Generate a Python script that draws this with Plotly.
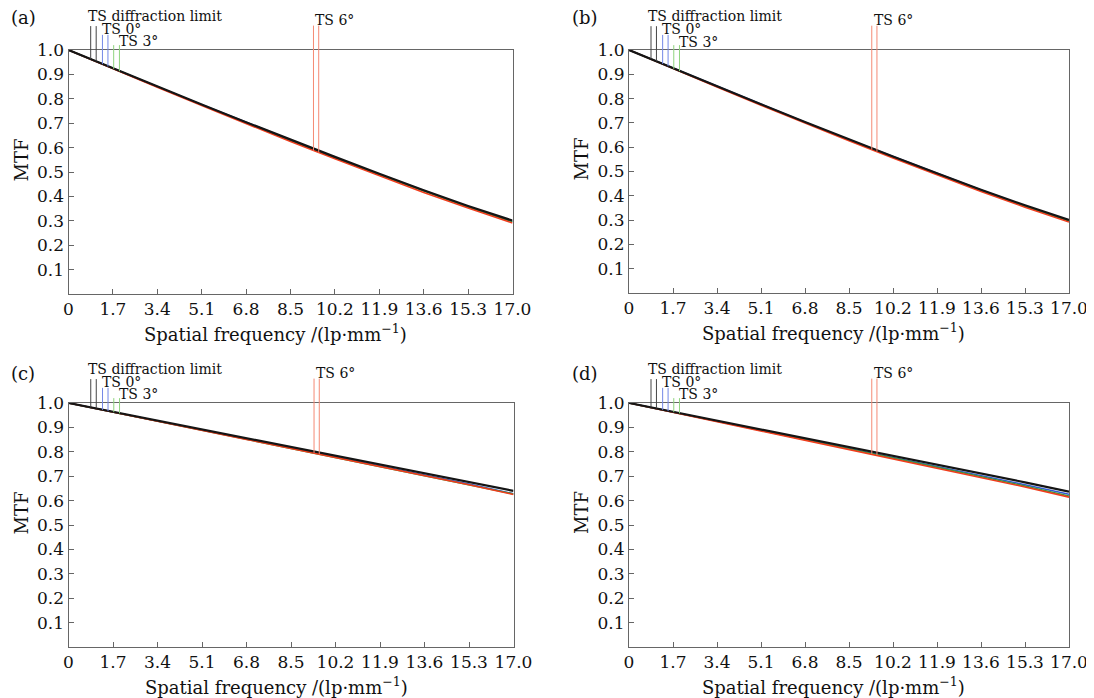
import numpy as np
import plotly.graph_objects as go

# ---------------- data ----------------
freq = [0.0, 1.7, 3.4, 5.1, 6.8, 8.5, 10.2, 11.9, 13.6, 15.3, 17.0]
x_ticktext = ["0", "1.7", "3.4", "5.1", "6.8", "8.5", "10.2", "11.9", "13.6", "15.3", "17.0"]
y_tickvals = [0.1, 0.2, 0.3, 0.4, 0.5, 0.6, 0.7, 0.8, 0.9, 1.0]
y_ticktext = ["0.1", "0.2", "0.3", "0.4", "0.5", "0.6", "0.7", "0.8", "0.9", "1.0"]

a_diff = [1.000, 0.925, 0.851, 0.777, 0.704, 0.632, 0.562, 0.493, 0.425, 0.361, 0.301]
a_f0 = [1.000, 0.924, 0.850, 0.776, 0.703, 0.631, 0.560, 0.491, 0.423, 0.358, 0.298]
a_f3 = [1.000, 0.924, 0.849, 0.775, 0.702, 0.629, 0.558, 0.489, 0.421, 0.356, 0.296]
a_f6 = [1.000, 0.922, 0.847, 0.772, 0.698, 0.625, 0.554, 0.484, 0.416, 0.352, 0.291]

b_diff = [1.000, 0.925, 0.851, 0.777, 0.704, 0.632, 0.562, 0.493, 0.425, 0.361, 0.301]
b_f0 = [1.000, 0.925, 0.850, 0.776, 0.703, 0.631, 0.561, 0.492, 0.424, 0.359, 0.299]
b_f3 = [1.000, 0.924, 0.850, 0.775, 0.702, 0.630, 0.559, 0.490, 0.422, 0.357, 0.296]
b_f6 = [1.000, 0.923, 0.848, 0.773, 0.699, 0.627, 0.556, 0.486, 0.418, 0.353, 0.292]

c_diff = [1.000, 0.964, 0.928, 0.892, 0.856, 0.820, 0.784, 0.748, 0.712, 0.676, 0.640]
c_f0 = [1.000, 0.963, 0.926, 0.889, 0.853, 0.816, 0.779, 0.743, 0.706, 0.668, 0.628]
c_f3 = [1.000, 0.963, 0.926, 0.888, 0.852, 0.815, 0.778, 0.741, 0.704, 0.666, 0.627]
c_f6 = [1.000, 0.962, 0.925, 0.888, 0.851, 0.814, 0.777, 0.740, 0.703, 0.665, 0.625]

d_diff = [1.000, 0.964, 0.928, 0.892, 0.856, 0.820, 0.784, 0.748, 0.712, 0.675, 0.637]
d_f0 = [1.000, 0.963, 0.926, 0.889, 0.852, 0.815, 0.778, 0.741, 0.704, 0.665, 0.626]
d_f3 = [1.000, 0.963, 0.925, 0.888, 0.850, 0.813, 0.775, 0.737, 0.699, 0.660, 0.619]
d_f6 = [1.000, 0.962, 0.924, 0.886, 0.848, 0.811, 0.773, 0.735, 0.696, 0.656, 0.614]

panel_names = ["(a)", "(b)", "(c)", "(d)"]
field_names = ["TS diffraction limit", "TS 0°", "TS 3°", "TS 6°"]

# legend marker pairs (T, S) frequency positions and their top MTF values
legend_x = [[0.85, 1.06], [1.30, 1.51], [1.73, 1.95], [9.38, 9.58]]
legend_top = [1.098, 1.062, 1.020, 1.100]
label_x = [0.70, 1.25, 1.89, 9.41]
label_y = [1.140, 1.088, 1.035, 1.123]

panels = [
    [a_diff, a_f0, a_f3, a_f6],
    [b_diff, b_f0, b_f3, b_f6],
    [c_diff, c_f0, c_f3, c_f6],
    [d_diff, d_f0, d_f3, d_f6],
]

# ---------------- styles / layout ----------------
OFF = 8  # default page margin around the plot div
W, H = 1094 - OFF, 698 - OFF
FONT = "DejaVu Serif"
curve_colors = ["#151515", "#2f55d4", "#3a9a3a", "#f03c1c"]
curve_widths = [2.2, 1.5, 1.5, 1.6]
mark_colors = ["#444444", "#7388e6", "#8fd47e", "#f58a74"]
draw_order = [1, 2, 3, 0]

# plot-area boxes in window pixels: left, right, top, bottom
boxes = [
    (68.5, 512.5, 50, 294),
    (629, 1069, 50, 293),
    (68.5, 513.5, 403, 647),
    (629, 1069, 403, 647),
]


def fx(px):
    return (px - OFF) / W


def fy(py):
    return 1 - (py - OFF) / H


fig = go.Figure()
layout = dict(
    template="none",
    width=W, height=H,
    margin=dict(l=0, r=0, t=0, b=0, autoexpand=False),
    paper_bgcolor="white", plot_bgcolor="rgba(0,0,0,0)",
    showlegend=False,
    font=dict(family=FONT, color="#111111", size=16),
)
annotations = []

for i, (series, box) in enumerate(zip(panels, boxes)):
    n = i + 1
    sfx = "" if n == 1 else str(n)
    tall = n + 4
    l, r, t, b = box
    ytop_px = OFF if i < 2 else 352
    dom_y = [fy(b), fy(t)]
    dom_tall = [fy(b), fy(ytop_px)]
    tall_range = (b - ytop_px) / (b - t)

    layout["xaxis" + sfx] = dict(
        domain=[fx(l), fx(r)], range=[0, 17], anchor="y" + sfx, automargin=False,
        tickmode="array", tickvals=freq, ticktext=x_ticktext,
        ticks="inside", ticklen=5, tickwidth=1,
        tickcolor="#666666", showline=True, linecolor="#666666", linewidth=1,
        mirror=True, showgrid=False, zeroline=False,
        tickfont=dict(family=FONT, size=17, color="#111111"),
    )
    layout["yaxis" + sfx] = dict(
        domain=dom_y, range=[0, 1], anchor="x" + sfx, automargin=False,
        tickmode="array", tickvals=y_tickvals, ticktext=y_ticktext,
        ticks="inside", ticklen=5, tickwidth=1,
        tickcolor="#666666", showline=True, linecolor="#666666", linewidth=1,
        mirror=True, showgrid=False, zeroline=False,
        tickfont=dict(family=FONT, size=17, color="#111111"),
    )
    layout["yaxis" + str(tall)] = dict(
        domain=dom_tall, range=[0, tall_range], anchor="x" + sfx,
        visible=False, showgrid=False, zeroline=False, automargin=False,
    )

    # curves
    for k in draw_order:
        fig.add_trace(go.Scatter(
            x=freq, y=series[k], mode="lines",
            line=dict(color=curve_colors[k], width=curve_widths[k]),
            xaxis="x" + sfx, yaxis="y" + sfx, hoverinfo="skip",
        ))

    # legend marker lines (from the curve up to above the frame)
    for k in range(4):
        for xv in legend_x[k]:
            y0 = float(np.interp(xv, freq, series[k]))
            fig.add_trace(go.Scatter(
                x=[xv, xv], y=[y0, legend_top[k]], mode="lines",
                line=dict(color=mark_colors[k], width=1),
                xaxis="x" + sfx, yaxis="y" + str(tall), hoverinfo="skip",
            ))
        annotations.append(dict(
            x=label_x[k], y=label_y[k], xref="x" + sfx, yref="y" + str(tall),
            text=field_names[k], showarrow=False, xanchor="left", yanchor="middle",
            borderpad=0,
            font=dict(family=FONT, size=14, color="#111111"),
        ))

    # panel letter
    annotations.append(dict(
        x=fx(l - 58.5), y=fy(t - (32 if i < 2 else 30)), xref="paper", yref="paper",
        text=panel_names[i], showarrow=False, xanchor="left", yanchor="middle",
        borderpad=0,
        font=dict(family=FONT, size=18, color="#111111"),
    ))
    # axis titles
    annotations.append(dict(
        x=fx(l - 48), y=fy((t + b) / 2 - 12), xref="paper", yref="paper",
        text="MTF", showarrow=False, textangle=-90,
        xanchor="center", yanchor="middle",
        font=dict(family=FONT, size=18, color="#111111"),
    ))
    annotations.append(dict(
        x=fx((l + r) / 2 - 15), y=fy(b + 39), xref="paper", yref="paper",
        text="Spatial frequency /(lp·mm<sup>−1</sup>)", showarrow=False,
        xanchor="center", yanchor="middle",
        font=dict(family=FONT, size=18, color="#111111"),
    ))

layout["annotations"] = annotations
fig.update_layout(**layout)
fig.write_html("out.html")
